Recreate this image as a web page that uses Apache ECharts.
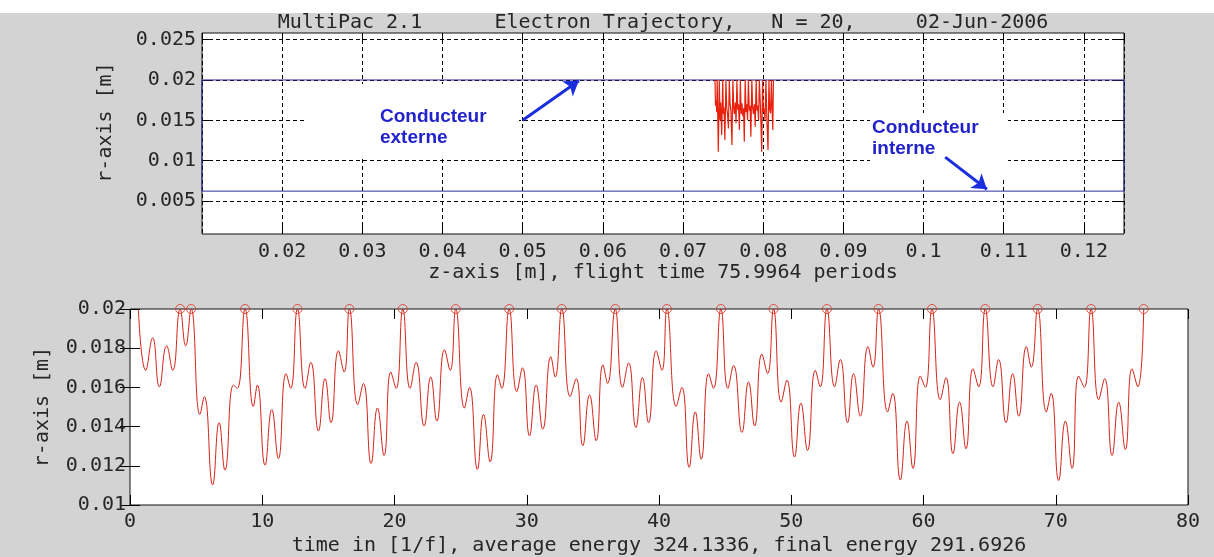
<!DOCTYPE html>
<html>
<head>
<meta charset="utf-8">
<title>MultiPac 2.1 - Electron Trajectory</title>
<script src="https://cdn.jsdelivr.net/npm/echarts@6/dist/echarts.min.js"></script>
<style>
html, body { margin: 0; padding: 0; background: #d3d3d3; }
#chartmain { width: 1214px; height: 557px; }
</style>
</head>
<body>
<div id="chartmain"></div>
<script>
// textes
var titleText = 'MultiPac 2.1      Electron Trajectory,   N = 20,     02-Jun-2006';
var zAxisName = 'z-axis [m], flight time 75.9964 periods';
var tAxisName = 'time in [1/f], average energy 324.1336, final energy 291.6926';
var rAxisName = 'r-axis [m]';

// graduations du haut (r)
var rTicksTop = [0.005, 0.01, 0.015, 0.02, 0.025];

// geometrie coaxiale (z, r) : conducteur externe r=0.02, interne r~0.00623
var geometry = [[0.01, 0.02], [0.125, 0.02], [0.125, 0.00623], [0.01, 0.00623], [0.01, 0.02]];

// trajectoire dans le plan z-r
var trajTop = [
	[0.07399, 0.02], [0.07405, 0.0168], [0.07412, 0.0175], [0.07420, 0.0160], [0.07426, 0.02],
	[0.07440, 0.01112], [0.07452, 0.02], [0.07462, 0.0150], [0.07470, 0.0172], [0.07482, 0.0132],
	[0.07495, 0.02], [0.07503, 0.0158], [0.07511, 0.0166], [0.07522, 0.01257], [0.07535, 0.02],
	[0.07545, 0.0165], [0.07555, 0.0158], [0.07566, 0.0140], [0.07577, 0.02], [0.07587, 0.0170],
	[0.07597, 0.0162], [0.07610, 0.01195], [0.07622, 0.02], [0.07632, 0.0166], [0.07640, 0.0158],
	[0.07652, 0.0172], [0.07661, 0.01463], [0.07672, 0.02], [0.07682, 0.0163], [0.07692, 0.0170],
	[0.07703, 0.0138], [0.07715, 0.02], [0.07725, 0.0158], [0.07735, 0.0171], [0.07745, 0.0155],
	[0.07755, 0.0165], [0.07764, 0.01236], [0.07775, 0.02], [0.07785, 0.0160], [0.07795, 0.0170],
	[0.07805, 0.0150], [0.07815, 0.02], [0.07826, 0.0162], [0.07836, 0.0168], [0.07846, 0.01298],
	[0.07858, 0.02], [0.07868, 0.0166], [0.07878, 0.0158], [0.07890, 0.0170], [0.07900, 0.0142],
	[0.07912, 0.02], [0.07922, 0.0162], [0.07932, 0.0168], [0.07942, 0.0150], [0.07952, 0.02],
	[0.07966, 0.0165], [0.07981, 0.01112], [0.07992, 0.02], [0.08002, 0.0160], [0.08012, 0.0165],
	[0.08023, 0.01504], [0.08034, 0.02], [0.08046, 0.0150], [0.08060, 0.01133], [0.08071, 0.02],
	[0.08082, 0.0163], [0.08093, 0.01587], [0.08102, 0.02], [0.08112, 0.0162], [0.08120, 0.0138],
	[0.08127, 0.02]
];

// r en fonction du temps (extrema)
var trajBottom = [
	[0.63, 0.02], [1.19, 0.01687], [1.71, 0.01853], [2.22, 0.01603], [2.77, 0.01812], [3.23, 0.01687],
	[3.79, 0.02], [4.21, 0.01812], [4.62, 0.02], [5.29, 0.01462], [5.62, 0.01553], [6.25, 0.01103],
	[6.74, 0.0142], [7.18, 0.01178], [7.82, 0.01612], [8.12, 0.01595], [8.70, 0.02], [9.33, 0.01503],
	[9.63, 0.01612], [10.21, 0.01203], [10.72, 0.01487], [11.22, 0.01237], [11.80, 0.0167], [12.15, 0.01595],
	[12.66, 0.02], [13.24, 0.01595], [13.67, 0.01728], [14.25, 0.01378], [14.75, 0.01645], [15.20, 0.0142],
	[15.76, 0.01787], [16.19, 0.01678], [16.59, 0.02], [17.22, 0.01512], [17.65, 0.0162], [18.23, 0.01212],
	[18.71, 0.01495], [19.21, 0.01253], [19.72, 0.01678], [20.12, 0.01595], [20.63, 0.02], [21.18, 0.01595],
	[21.63, 0.01728], [22.24, 0.01403], [22.74, 0.01653], [23.20, 0.01428], [23.78, 0.01792], [24.21, 0.01687],
	[24.63, 0.02], [25.29, 0.01495], [25.67, 0.016], [26.27, 0.01182], [26.73, 0.01462], [27.23, 0.0122],
	[27.79, 0.01665], [28.11, 0.01595], [28.67, 0.02], [29.25, 0.01578], [29.68, 0.017], [30.21, 0.01353],
	[30.71, 0.01612], [31.21, 0.01387], [31.82, 0.01757], [32.15, 0.01653], [32.65, 0.02], [33.28, 0.01553],
	[33.74, 0.01645], [34.24, 0.01303], [34.75, 0.01562], [35.25, 0.01328], [35.76, 0.01715], [36.11, 0.0162],
	[36.69, 0.02], [37.24, 0.016], [37.70, 0.01725], [38.25, 0.01395], [38.75, 0.0165], [39.21, 0.0142],
	[39.79, 0.01787], [40.22, 0.01687], [40.60, 0.02], [41.30, 0.01503], [41.73, 0.016], [42.28, 0.01192],
	[42.74, 0.01475], [43.19, 0.01233], [43.75, 0.0167], [44.12, 0.01595], [44.68, 0.02], [45.21, 0.01595],
	[45.64, 0.01712], [46.27, 0.0137], [46.77, 0.01628], [47.23, 0.01403], [47.78, 0.0177], [48.21, 0.0167],
	[48.66, 0.02], [49.24, 0.01525], [49.67, 0.01637], [50.25, 0.01245], [50.73, 0.0152], [51.23, 0.01278],
	[51.82, 0.01687], [52.19, 0.01603], [52.70, 0.02], [53.28, 0.01603], [53.71, 0.01742], [54.26, 0.0142],
	[54.71, 0.0167], [55.22, 0.01453], [55.80, 0.01808], [56.18, 0.01703], [56.60, 0.02], [57.29, 0.01475],
	[57.67, 0.0157], [58.25, 0.01128], [58.75, 0.01428], [59.20, 0.01187], [59.76, 0.01658], [60.14, 0.016],
	[60.64, 0.02], [61.27, 0.01537], [61.70, 0.0165], [62.23, 0.01262], [62.73, 0.01525], [63.21, 0.01287],
	[63.74, 0.01695], [64.17, 0.01603], [64.67, 0.02], [65.26, 0.01603], [65.68, 0.01742], [66.24, 0.0142],
	[66.74, 0.0167], [67.20, 0.01453], [67.78, 0.01808], [68.15, 0.01703], [68.63, 0.02], [69.29, 0.01475],
	[69.65, 0.0157], [70.22, 0.01125], [70.73, 0.01428], [71.23, 0.01187], [71.73, 0.01658], [72.16, 0.016],
	[72.67, 0.02], [73.25, 0.01537], [73.70, 0.01645], [74.26, 0.01253], [74.76, 0.01525], [75.26, 0.01283],
	[75.77, 0.01695], [76.20, 0.01603], [76.65, 0.02]
];

// impacts sur le conducteur externe (N = 20)
var impactTimes = [3.79, 4.62, 8.70, 12.66, 16.59, 20.63, 24.63, 28.67, 32.65, 36.69,
	40.60, 44.68, 48.66, 52.70, 56.60, 60.64, 64.67, 68.63, 72.67, 76.65];
var impactR = 0.02;

// annotations (coordonnees z, r)
var labelBoxes = [[[0.0231, 0.01949], [0.04954, 0.01034]], [[0.09332, 0.0159], [0.11054, 0.00786]]];
var arrows = [[[0.050, 0.0150], [0.0570, 0.0199]], [[0.1027, 0.01044], [0.1079, 0.00647]]];
var labels = [
	{ text: 'Conducteur\nexterne', z: 0.0322, r: 0.01411 },
	{ text: 'Conducteur\ninterne', z: 0.09357, r: 0.0128 }
];

var MONO = 'DejaVu Sans Mono';
var TXT = '#262626';
var RED = '#d42418';

function fmt(v) {
	return String(+(+v).toFixed(4));
}

var impacts = [];
for (var i = 0; i < impactTimes.length; i++) {
	impacts.push([impactTimes[i], impactR]);
}
var boxData = [];
for (var i = 0; i < labelBoxes.length; i++) {
	boxData.push([{ coord: labelBoxes[i][0] }, { coord: labelBoxes[i][1] }]);
}
var arrowData = [];
for (var i = 0; i < arrows.length; i++) {
	arrowData.push([{ coord: arrows[i][0], symbol: 'none' }, { coord: arrows[i][1], symbol: 'arrow', symbolSize: 14 }]);
}
var textData = [];
for (var i = 0; i < labels.length; i++) {
	textData.push({ name: labels[i].text, coord: [labels[i].z, labels[i].r] });
}

var labelStyle = { fontFamily: MONO, fontSize: 20, color: TXT };
var nameStyle = { fontFamily: MONO, fontSize: 20, color: TXT };
var gridDash = { show: true, lineStyle: { color: '#000', width: 1, type: [4, 3] } };

var option = {
	backgroundColor: '#d3d3d3',
	animation: false,
	graphic: [
		{ type: 'rect', left: 0, top: 0, shape: { width: 1214, height: 13 }, style: { fill: '#fff' }, silent: true },
		{ type: 'text', x: 663, y: 23, silent: true,
			style: { text: titleText, align: 'center', verticalAlign: 'middle', fill: TXT, font: '20px "DejaVu Sans Mono"' } }
	],
	grid: [
		{ left: 202, top: 33, width: 922, height: 201, show: true, backgroundColor: '#fff', borderColor: '#111', borderWidth: 1 },
		{ left: 130, top: 309, width: 1058, height: 200, show: true, backgroundColor: '#fff', borderColor: '#111', borderWidth: 1 }
	],
	xAxis: [
		{
			gridIndex: 0, type: 'value', min: 0.01, max: 0.125, interval: 0.01,
			name: zAxisName, nameLocation: 'middle', nameGap: 27, nameTextStyle: nameStyle,
			axisLine: { show: false },
			axisTick: { inside: true, length: 9, lineStyle: { color: '#000' } },
			axisLabel: Object.assign({ showMinLabel: false, showMaxLabel: false, margin: 8, formatter: fmt }, labelStyle),
			splitLine: gridDash
		},
		{
			gridIndex: 0, type: 'value', position: 'top', min: 0.01, max: 0.125, interval: 0.01,
			axisLine: { show: false },
			axisTick: { inside: true, length: 9, lineStyle: { color: '#000' } },
			axisLabel: { show: false }, splitLine: { show: false }
		},
		{
			gridIndex: 1, type: 'value', min: 0, max: 80, interval: 10,
			name: tAxisName, nameLocation: 'middle', nameGap: 31, nameTextStyle: nameStyle,
			axisLine: { show: false },
			axisTick: { inside: true, length: 10, lineStyle: { color: '#000' } },
			axisLabel: Object.assign({ margin: 7, formatter: fmt }, labelStyle),
			splitLine: { show: false }
		},
		{
			gridIndex: 1, type: 'value', position: 'top', min: 0, max: 80, interval: 10,
			axisLine: { show: false },
			axisTick: { inside: true, length: 10, lineStyle: { color: '#000' } },
			axisLabel: { show: false }, splitLine: { show: false }
		}
	],
	yAxis: [
		{
			gridIndex: 0, type: 'value', min: 0.00092, max: 0.02582,
			name: rAxisName, nameLocation: 'middle', nameGap: 86, nameTextStyle: Object.assign({ padding: [0, 0, 0, 22] }, nameStyle),
			axisLine: { show: false },
			axisTick: { inside: true, length: 9, customValues: rTicksTop, lineStyle: { color: '#000' } },
			axisLabel: Object.assign({ customValues: rTicksTop, margin: 6, formatter: fmt }, labelStyle),
			splitLine: gridDash
		},
		{
			gridIndex: 0, type: 'value', position: 'right', min: 0.00092, max: 0.02582,
			axisLine: { show: false },
			axisTick: { inside: true, length: 9, customValues: rTicksTop, lineStyle: { color: '#000' } },
			axisLabel: { show: false }, splitLine: { show: false }
		},
		{
			gridIndex: 1, type: 'value', min: 0.01, max: 0.02, interval: 0.002,
			name: rAxisName, nameLocation: 'middle', nameGap: 77, nameTextStyle: nameStyle,
			axisLine: { show: false },
			axisTick: { inside: true, length: 10, lineStyle: { color: '#000' } },
			axisLabel: Object.assign({ margin: 4, formatter: fmt }, labelStyle),
			splitLine: { show: false }
		},
		{
			gridIndex: 1, type: 'value', position: 'right', min: 0.01, max: 0.02, interval: 0.002,
			axisLine: { show: false },
			axisTick: { inside: true, length: 10, lineStyle: { color: '#000' } },
			axisLabel: { show: false }, splitLine: { show: false }
		}
	],
	series: [
		{
			// fonds blancs des textes
			name: 'boxes', type: 'line', xAxisIndex: 0, yAxisIndex: 0, data: [], z: 1,
			markArea: { silent: true, itemStyle: { color: '#fff' }, data: boxData }
		},
		{
			name: 'geometry', type: 'line', xAxisIndex: 0, yAxisIndex: 0, data: geometry, z: 3,
			symbol: 'none', lineStyle: { color: '#2d2d9e', width: 1 }
		},
		{
			name: 'trajectory z-r', type: 'line', xAxisIndex: 0, yAxisIndex: 0, data: trajTop, z: 4,
			symbol: 'none', lineStyle: { color: '#e8200c', width: 1.2 }
		},
		{
			name: 'annotations', type: 'line', xAxisIndex: 0, yAxisIndex: 0, data: [], z: 6,
			markLine: {
				silent: true, symbol: ['none', 'arrow'], symbolSize: 14,
				lineStyle: { color: '#1a2ee0', width: 3, type: 'solid' },
				label: { show: false }, data: arrowData
			},
			markPoint: {
				silent: true, symbol: 'circle', symbolSize: 0,
				label: { show: true, position: 'right', distance: 0, formatter: '{b}', color: '#2222cc',
					fontFamily: 'Liberation Sans', fontWeight: 'bold', fontSize: 19, lineHeight: 21, align: 'left' },
				data: textData
			}
		},
		{
			name: 'r(t)', type: 'line', xAxisIndex: 2, yAxisIndex: 2, data: trajBottom, z: 4,
			smooth: 0.5, symbol: 'none', lineStyle: { color: RED, width: 1 }
		},
		{
			name: 'impacts', type: 'scatter', xAxisIndex: 2, yAxisIndex: 2, data: impacts, z: 5,
			symbol: 'circle', symbolSize: 9,
			itemStyle: { color: 'rgba(255,255,255,0)', borderColor: '#e03020', borderWidth: 1 }
		}
	]
};

var myChart = echarts.init(document.getElementById('chartmain'));
myChart.setOption(option);
</script>
</body>
</html>
